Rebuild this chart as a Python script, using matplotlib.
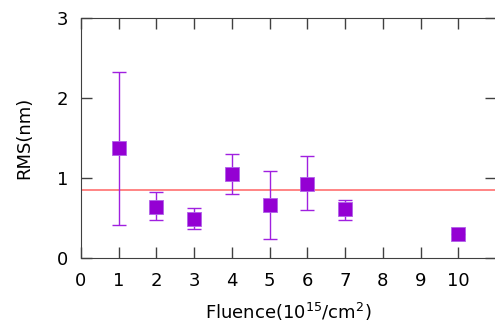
import matplotlib
matplotlib.use("Agg")
import matplotlib.pyplot as plt
import numpy as np

# fluence (10^15/cm^2) and measured RMS roughness (nm)
fluence = [1, 2, 3, 4, 5, 6, 7, 10]
rms = [1.37, 0.64, 0.49, 1.05, 0.66, 0.93, 0.61, 0.30]
rms_low = [0.41, 0.47, 0.36, 0.80, 0.24, 0.60, 0.48, 0.30]
rms_high = [2.33, 0.82, 0.63, 1.30, 1.09, 1.27, 0.73, 0.30]
mean_rms = 0.85

x_ticks = list(range(0, 11))
y_ticks = [0, 1, 2, 3]

fig = plt.figure(figsize=(4.95, 3.24), dpi=100)
ax = fig.add_axes([0.1636, 0.2037, 0.8384, 0.7407])

rms = np.array(rms)
yerr = [rms - np.array(rms_low), np.array(rms_high) - rms]

# mean line behind the points
ax.axhline(mean_rms, color="#ff7070", lw=1.2, zorder=1)
ax.errorbar(fluence, rms, yerr=yerr, fmt="none", ecolor="#a020e0",
            elinewidth=1.0, capsize=5, capthick=1.0, zorder=2)
ax.plot(fluence, rms, "s", color="#9400d3", markersize=9.5,
        markeredgecolor="#b060e8", markeredgewidth=0.6, zorder=3)

ax.set_xlim(0, 11)
ax.set_ylim(0, 3)
ax.set_xticks(x_ticks)
ax.set_yticks(y_ticks)
ax.tick_params(direction="in", length=8, width=1, colors="#404040",
               labelcolor="black", labelsize=13, top=True, right=True)
ax.tick_params(axis="x", pad=10)
ax.tick_params(axis="y", pad=9)
for s in ax.spines.values():
    s.set_color("#404040")

ax.set_xlabel("Fluence(10$^{15}$/cm$^2$)", fontsize=13, labelpad=8)
ax.set_ylabel("RMS(nm)", fontsize=13, labelpad=17)

fig.savefig("out.png", dpi=100)
